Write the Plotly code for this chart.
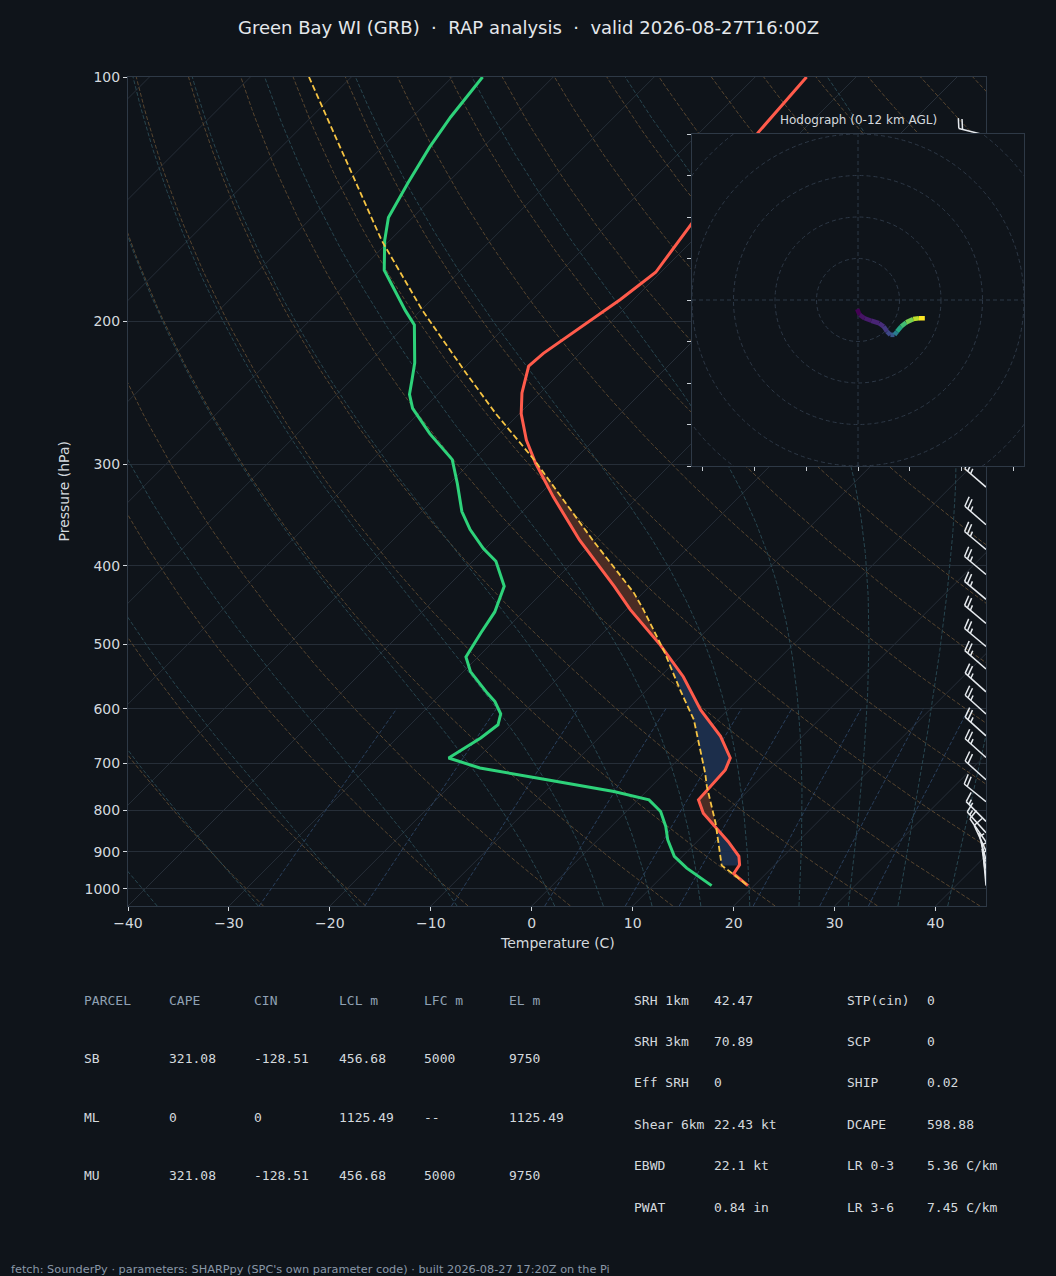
import numpy as np
import plotly.graph_objects as go
from plotly.colors import sample_colorscale

# ---------------- sounding (hPa, degC) ----------------
pres_t = [100, 117, 151, 174, 188, 204, 219, 227, 245, 260, 280, 299, 329, 372, 397,
          424, 453, 501, 548, 602, 649, 690, 714, 748, 777, 807, 838, 875, 912, 934, 958, 991]
temp_c = [-54.9, -54.2, -51.8, -50.5, -51.3, -52.5, -53.6, -53.8, -51.8, -49.8, -46.7, -43.5,
          -38.4, -31.5, -27.5, -23.5, -19.6, -13.1, -7.7, -2.7, 1.9, 5.0, 5.7, 5.9, 6.0, 7.8,
          10.3, 13.1, 15.6, 16.5, 16.8, 19.4]

pres_d = [100, 112, 122, 135, 149, 159, 173, 180, 194, 202, 225, 236, 246, 256, 275, 296, 317,
          343, 361, 381, 395, 424, 456, 484, 518, 540, 574, 588, 609, 628, 652, 690, 710, 734,
          759, 777, 803, 838, 870, 912, 943, 991]
dewp_c = [-87.0, -86.2, -85.3, -83.9, -82.4, -80.5, -77.6, -75.5, -71.5, -69.2, -65.4, -64.0,
          -62.8, -61.1, -56.9, -52.1, -49.2, -46.0, -43.4, -40.2, -37.7, -34.4, -32.8, -32.1,
          -31.2, -29.3, -25.5, -23.9, -22.1, -21.3, -21.7, -22.9, -18.8, -11.0, -3.2, 1.1, 3.4,
          5.4, 6.9, 9.2, 11.6, 15.8]

# surface-based parcel
pres_pcl = [100, 159, 194, 232, 260, 296, 372, 432, 453, 510, 569, 619, 720, 748, 830, 908,
            936, 958, 991]
parcel_c = [-104.2, -80.8, -69.8, -59.2, -52.3, -44.0, -30.2, -20.9, -18.3, -12.1, -6.7, -2.4,
            4.0, 5.5, 10.0, 13.6, 14.8, 16.7, 19.4]
lcl_p = 936

# wind barbs (hPa, kt, deg)
barb_p = [118, 320, 356, 382, 410, 440, 471, 503, 536, 572, 609, 648, 689, 734, 781, 826,
          853, 875, 898, 921, 945, 966, 991]
barb_spd = [20, 25, 25, 25, 25, 25, 25, 25, 25, 25, 25, 25, 25, 20, 20, 15, 15, 10, 10, 5, 5, 5, 5]
barb_dir = [284, 311, 311, 310, 310, 310, 310, 310, 311, 312, 312, 312, 312, 312, 309, 315,
            318, 325, 335, 345, 350, 352, 355]

# hodograph (kt) and height (km AGL)
hodo_u = [-0.2, 0.4, 1.6, 3.2, 5.1, 6.2, 7.0, 7.8, 8.8, 9.4, 10.4, 11.6, 13.3, 14.7, 16.1]
hodo_v = [-2.2, -3.6, -4.4, -5.0, -5.6, -6.4, -7.6, -8.4, -8.4, -7.6, -6.4, -5.4, -4.6, -4.4, -4.4]
hodo_h = [0, 0.3, 0.6, 0.9, 1.2, 1.5, 2.0, 2.6, 3.3, 5.0, 7.0, 8.3, 9.5, 10.8, 12.0]
hodo_rings = [10, 20, 30, 40, 50, 60]

# parameter tables
parcel_head = ["PARCEL", "CAPE", "CIN", "LCL m", "LFC m", "EL m"]
parcel_rows = [["SB", "321.08", "-128.51", "456.68", "5000", "9750"],
               ["ML", "0", "0", "1125.49", "--", "1125.49"],
               ["MU", "321.08", "-128.51", "456.68", "5000", "9750"]]
param_a = [("SRH 1km", "42.47"), ("SRH 3km", "70.89"), ("Eff SRH", "0"),
           ("Shear 6km", "22.43 kt"), ("EBWD", "22.1 kt"), ("PWAT", "0.84 in")]
param_b = [("STP(cin)", "0"), ("SCP", "0"), ("SHIP", "0.02"),
           ("DCAPE", "598.88"), ("LR 0-3", "5.36 C/km"), ("LR 3-6", "7.45 C/km")]

title = "Green Bay WI (GRB) \u00a0·\u00a0 RAP analysis \u00a0·\u00a0 valid 2026-08-27T16:00Z"
footer = ("fetch: SounderPy · parameters: SHARPpy (SPC's own parameter code) · "
          "built 2026-08-27 17:20Z on the Pi")

# ---------------- style / geometry ----------------
BG = "#0f141a"
TXT = "#d4d9de"
W, H = 1056, 1276
PL, PR, PT, PB = 128, 986, 77, 906          # skew-T plot box in pixels
HL, HR, HT, HB = 692, 1024, 134, 466        # hodograph box
P_BOT, P_TOP = 1050.0, 100.0
X_MIN, X_MAX = -40, 45
PX_X = (PR - PL) / (X_MAX - X_MIN)
PX_DEC = (PB - PT) / np.log10(P_BOT / P_TOP)
SKEW = PX_DEC / PX_X                         # 45 degree isotherms


def skew(t, p):
    return np.asarray(t, float) + SKEW * np.log10(P_BOT / np.asarray(p, float))


def sat_mr(tc, p):
    es = 6.112 * np.exp(17.67 * tc / (tc + 243.5))
    return 0.622 * es / (p - es)


def moist_dtdp(tk, p):
    rs = sat_mr(tk - 273.15, p)
    return (287.04 * tk + 2.501e6 * rs) / (1005.7 + 2.501e6 ** 2 * rs * 0.622 / (287.04 * tk * tk)) / p


def rk4_step(t, p1, p2):
    h = p2 - p1
    k1 = moist_dtdp(t, p1)
    k2 = moist_dtdp(t + h * k1 / 2, p1 + h / 2)
    k3 = moist_dtdp(t + h * k2 / 2, p1 + h / 2)
    k4 = moist_dtdp(t + h * k3, p2)
    return t + h * (k1 + 2 * k2 + 2 * k3 + k4) / 6


def join(lines):
    xs, ys = [], []
    for x, y in lines:
        xs += list(x) + [None]
        ys += list(y) + [None]
    return xs, ys


fig = go.Figure()

# ---------------- background reference lines ----------------
iso = [(skew([t, t], [P_BOT, P_TOP]), [P_BOT, P_TOP]) for t in range(-130, 50, 10)]
x, y = join(iso)
fig.add_trace(go.Scatter(x=x, y=y, mode="lines", line=dict(color="#262e38", width=1),
                         hoverinfo="skip", showlegend=False))

pline = np.geomspace(P_BOT, P_TOP, 80)
dry = [(skew((t0 + 273.15) * (pline / 1000) ** 0.2857 - 273.15, pline), pline)
       for t0 in range(-30, 210, 10)]
x, y = join(dry)
fig.add_trace(go.Scatter(x=x, y=y, mode="lines", line=dict(color="#57452f", width=1, dash="4px,2px"),
                         hoverinfo="skip", showlegend=False))

pm = np.geomspace(P_BOT, P_TOP, 160)
i0 = int(np.argmin(abs(pm - 1000)))
moist = []
for t0 in list(range(-40, 0, 10)) + list(range(0, 50, 5)):
    tm = np.full_like(pm, np.nan)
    tm[i0] = t0 + 273.15
    for i in range(i0, len(pm) - 1):
        tm[i + 1] = rk4_step(tm[i], pm[i], pm[i + 1])
    for i in range(i0, 0, -1):
        tm[i - 1] = rk4_step(tm[i], pm[i], pm[i - 1])
    moist.append((skew(tm - 273.15, pm), pm))
x, y = join(moist)
fig.add_trace(go.Scatter(x=x, y=y, mode="lines", line=dict(color="#27454f", width=1, dash="4px,2px"),
                         hoverinfo="skip", showlegend=False))

mix_w = [0.0004, 0.001, 0.002, 0.004, 0.007, 0.01, 0.016, 0.024, 0.032]
pmix = np.geomspace(P_BOT, 600, 20)
mix = []
for w in mix_w:
    lne = np.log(pmix * w / (0.622 + w) / 6.112)
    td = 243.5 * lne / (17.67 - lne)
    mix.append((skew(td, pmix), pmix))
x, y = join(mix)
fig.add_trace(go.Scatter(x=x, y=y, mode="lines", line=dict(color="#293f5c", width=1, dash="4px,2px"),
                         hoverinfo="skip", showlegend=False))

# ---------------- CAPE / CIN shading ----------------
lp = np.linspace(np.log(lcl_p), np.log(P_TOP), 900)
pg = np.exp(lp)
env_g = np.interp(lp, np.log(pres_t), temp_c)
pcl_g = np.interp(lp, np.log(pres_pcl), parcel_c)
pos = pcl_g > env_g
i_el = np.where(pos)[0].max()
i_lfc = i_el
while i_lfc > 0 and pos[i_lfc - 1]:
    i_lfc -= 1


def runs(mask):
    out, start = [], None
    for i, m in enumerate(mask):
        if m and start is None:
            start = i
        if not m and start is not None:
            out.append((start, i))
            start = None
    if start is not None:
        out.append((start, len(mask)))
    return out


idx = np.arange(len(pg))
for mask, col in ((pos & (idx <= i_el), "#4a2c24"), (~pos & (idx < i_lfc), "#1c2e4b")):
    for a, b in runs(mask):
        sl = slice(max(a - 1, 0), min(b + 1, len(pg)))
        xs = np.concatenate([skew(env_g[sl], pg[sl]), skew(pcl_g[sl], pg[sl])[::-1]])
        ys = np.concatenate([pg[sl], pg[sl][::-1]])
        fig.add_trace(go.Scatter(x=xs, y=ys, mode="lines", fill="toself", fillcolor=col,
                                 line=dict(width=0), hoverinfo="skip", showlegend=False))

# ---------------- profiles ----------------
fig.add_trace(go.Scatter(x=skew(dewp_c, pres_d), y=pres_d, mode="lines",
                         line=dict(color="#2ed27a", width=3), showlegend=False))
fig.add_trace(go.Scatter(x=skew(temp_c, pres_t), y=pres_t, mode="lines",
                         line=dict(color="#ff5b4b", width=3), showlegend=False))
fig.add_trace(go.Scatter(x=skew(parcel_c, pres_pcl), y=pres_pcl, mode="lines",
                         line=dict(color="#f6c443", width=1.8, dash="6px,3px"), showlegend=False))

# ---------------- wind barbs (pixel-sized, anchored on the right spine) ----------------
STAFF, FEATHER, GAP = 28.0, 10.5, 3.8


def to_data(p0, dx, dy):
    return X_MAX + dx / PX_X, p0 * 10 ** (-dy / PX_DEC)


bx, by = [], []
for p0, spd, wd in zip(barb_p, barb_spd, barb_dir):
    d = np.array([np.sin(np.radians(wd)), np.cos(np.radians(wd))])
    f = np.array([d[1], -d[0]]) + 0.3 * d
    f /= np.linalg.norm(f)
    segs = [(np.zeros(2), STAFF * d)]
    n_full, half = int(spd // 10), (spd % 10) >= 5
    pos_s = STAFF
    for _ in range(n_full):
        segs.append((pos_s * d, pos_s * d + FEATHER * f))
        pos_s -= GAP
    if half:
        if n_full == 0:
            pos_s -= GAP
        segs.append((pos_s * d, pos_s * d + 0.5 * FEATHER * f))
    for s, e in segs:
        for q in (s, e):
            xx, yy = to_data(p0, q[0], q[1])
            bx.append(xx)
            by.append(yy)
        bx.append(None)
        by.append(None)
fig.add_trace(go.Scatter(x=bx, y=by, mode="lines", line=dict(color="#e6eaee", width=1.5),
                         hoverinfo="skip", showlegend=False))

# ---------------- hodograph inset ----------------
hcols = sample_colorscale("Viridis", [h / max(hodo_h) for h in hodo_h])
for i in range(len(hodo_u) - 1):
    fig.add_trace(go.Scatter(x=hodo_u[i:i + 2], y=hodo_v[i:i + 2], mode="lines",
                             line=dict(color=hcols[i + 1] if i > 0 else hcols[0], width=4.5),
                             xaxis="x2", yaxis="y2", showlegend=False, hoverinfo="skip"))

ring_line = dict(color="#2d3846", width=1, dash="4px,3px")
shapes = [dict(type="circle", xref="x2", yref="y2", x0=-r, x1=r, y0=-r, y1=r,
               line=ring_line, layer="below") for r in hodo_rings]
shapes.append(dict(type="line", xref="x2", yref="y2", x0=-40, x1=40, y0=0, y1=0,
                   line=ring_line, layer="below"))
shapes.append(dict(type="line", xref="x2", yref="y2", x0=0, x1=0, y0=-40, y1=40,
                   line=ring_line, layer="below"))

# ---------------- text ----------------
MONO = "DejaVu Sans Mono"
ann = []
for c, txt in enumerate(parcel_head):
    ann.append(dict(x=(82 + c * 85) / W, y=1 - 1000 / H, text=txt,
                    font=dict(family=MONO, size=13, color="#8fa1b4")))
for r, row in enumerate(parcel_rows):
    for c, txt in enumerate(row):
        ann.append(dict(x=(82 + c * 85) / W, y=1 - (1058.5 + r * 58.7) / H, text=txt,
                        font=dict(family=MONO, size=13, color=TXT)))
for col_x, vals in ((632, param_a), (845, param_b)):
    for r, (lab, val) in enumerate(vals):
        yy = 1 - (1000 + r * 41.4) / H
        ann.append(dict(x=col_x / W, y=yy, text=lab, font=dict(family=MONO, size=13, color=TXT)))
        ann.append(dict(x=(col_x + 80) / W, y=yy, text=val, font=dict(family=MONO, size=13, color=TXT)))
for a in ann:
    a.update(xanchor="left", yanchor="middle")

ann += [
    dict(x=9 / W, y=1 - 1269 / H, text=footer, xanchor="left", yanchor="middle",
         font=dict(size=11.3, color="#8a98a8")),
    dict(x=(HL + HR) / 2 / W, y=1 - 120 / H, text="Hodograph (0-12 km AGL)",
         xanchor="center", yanchor="middle", font=dict(size=12, color=TXT)),
    dict(x=63 / W, y=1 - (PT + PB) / 2 / H, text="Pressure (hPa)", textangle=-90,
         xanchor="center", yanchor="middle", font=dict(size=14, color=TXT)),
    dict(x=(PL + PR) / 2 / W, y=1 - 943 / H, text="Temperature (C)",
         xanchor="center", yanchor="middle", font=dict(size=14, color=TXT)),
    dict(x=0.5, y=1 - 27 / H, text=title, xanchor="center", yanchor="middle",
         font=dict(size=18, color="#e4e8ec")),
]
for a in ann:
    a.update(xref="paper", yref="paper", showarrow=False)

ptick = list(range(100, 1001, 100))
fig.update_layout(
    width=W, height=H, autosize=False,
    margin=dict(l=0, r=0, t=0, b=0, pad=0),
    paper_bgcolor=BG, plot_bgcolor=BG,
    font=dict(family="DejaVu Sans", color=TXT),
    showlegend=False,
    xaxis=dict(domain=[PL / W, PR / W], range=[X_MIN, X_MAX], tickvals=list(range(-40, 41, 10)),
               ticks="outside", ticklen=4, tickcolor=TXT, tickfont=dict(size=14, color=TXT),
               showgrid=False, zeroline=False, showline=True, mirror=True, linecolor="#2e3946",
               anchor="y", automargin=False),
    yaxis=dict(domain=[1 - PB / H, 1 - PT / H], type="log",
               range=[np.log10(P_BOT), np.log10(P_TOP)], tickvals=ptick,
               ticktext=[str(v) for v in ptick], ticks="outside", ticklen=4, tickcolor=TXT,
               tickfont=dict(size=14, color=TXT), showgrid=True, gridcolor="#262e38",
               zeroline=False, showline=True, mirror=True, linecolor="#2e3946", anchor="x",
               automargin=False),
    xaxis2=dict(domain=[HL / W, HR / W], range=[-40, 40], anchor="y2", dtick=12.5, tick0=0,
                showticklabels=False, ticks="outside", ticklen=4, tickcolor="#c8ced4",
                showgrid=False, zeroline=False, showline=True, mirror=True, linecolor="#2e3946",
                automargin=False),
    yaxis2=dict(domain=[1 - HB / H, 1 - HT / H], range=[-40, 40], anchor="x2", dtick=10, tick0=0,
                showticklabels=False, ticks="outside", ticklen=4, tickcolor="#c8ced4",
                showgrid=False, zeroline=False, showline=True, mirror=True, linecolor="#2e3946",
                automargin=False),
    shapes=shapes,
    annotations=ann,
)

fig.write_html("out.html", config={"displayModeBar": False},
               post_script="document.body.style.margin='0';"
                           "document.body.style.overflow='hidden';"
                           "document.body.style.background='" + BG + "';")
